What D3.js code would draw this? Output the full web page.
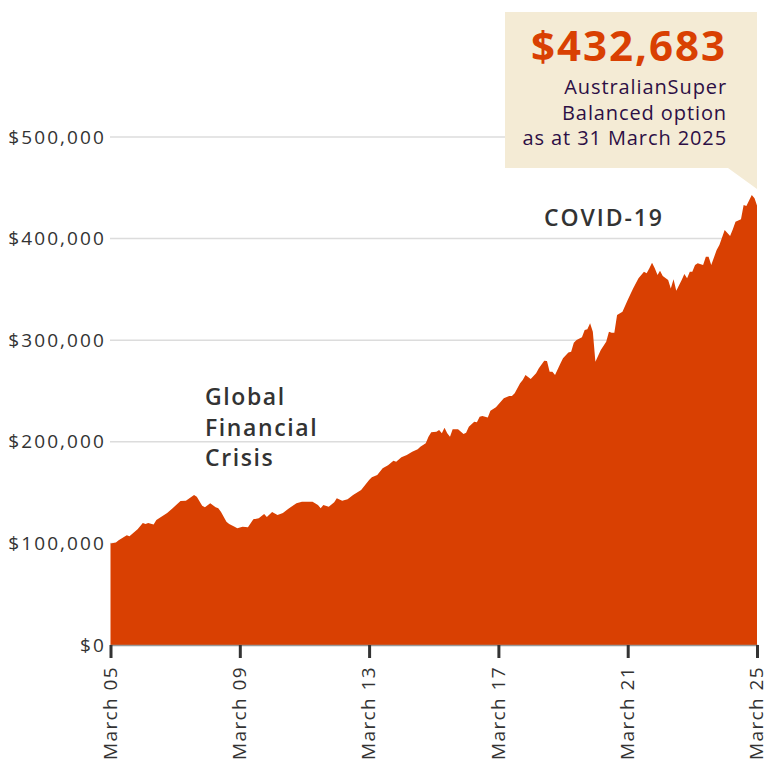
<!DOCTYPE html>
<html>
<head>
<meta charset="utf-8">
<script src="https://cdn.jsdelivr.net/npm/d3@7"></script>
<style>
  html, body { margin: 0; padding: 0; background: #fff; }
  svg { display: block; }
  text { font-family: "Open Sans", "DejaVu Sans", sans-serif; }
</style>
</head>
<body>
<svg id="chart" width="768" height="781"></svg>
<script>
// ---- data (values in $ thousands) ----
const dates = ["2005-03","2005-05","2005-06","2005-09","2005-10","2006-01","2006-03","2006-04","2006-05","2006-07","2006-08","2006-12","2007-02","2007-05","2007-07","2007-10","2007-11","2008-01","2008-02","2008-04","2008-06","2008-07","2008-08","2008-10","2008-11","2009-01","2009-02","2009-04","2009-06","2009-08","2009-10","2009-12","2010-01","2010-03","2010-05","2010-07","2010-09","2010-12","2011-02","2011-06","2011-08","2011-09","2011-10","2011-12","2012-02","2012-03","2012-05","2012-07","2012-09","2012-12","2013-03","2013-04","2013-06","2013-08","2013-10","2013-12","2014-01","2014-03","2014-05","2014-07","2014-09","2014-10","2014-12","2015-01","2015-02","2015-04","2015-05","2015-06","2015-07","2015-08","2015-09","2015-10","2015-12","2016-02","2016-03","2016-04","2016-06","2016-07","2016-08","2016-09","2016-11","2016-12","2017-02","2017-05","2017-07","2017-08","2017-09","2017-11","2017-12","2018-01","2018-03","2018-05","2018-06","2018-08","2018-09","2018-10","2018-11","2018-12","2019-02","2019-03","2019-05","2019-06","2019-07","2019-08","2019-10","2019-11","2019-12","2020-01","2020-02","2020-03","2020-05","2020-07","2020-08","2020-09","2020-10","2020-11","2021-01","2021-03","2021-05","2021-07","2021-09","2021-10","2021-11","2021-12","2022-01","2022-02","2022-03","2022-04","2022-06","2022-07","2022-08","2022-09","2022-11","2022-12","2023-01","2023-02","2023-03","2023-04","2023-05","2023-07","2023-08","2023-09","2023-10","2023-12","2024-01","2024-03","2024-05","2024-06","2024-07","2024-09","2024-10","2024-11","2025-01","2025-02","2025-03"];
const balances = [100,101,103,108,107,114,120,119,120,118.5,123,130,134.5,141.7,142,147.6,146,137,135.5,139.5,135.5,134.5,131,121.4,119,116.5,114.8,116.5,116,123.7,124.7,129,126,131,128,130,134,139.5,141,141,137.8,134.5,137.8,136,140.4,144.4,142,143.4,147.6,152.6,162.4,165,167.3,174,177,181.4,180.4,184.7,187,190.3,192.6,195.2,198.5,205,209.4,210,211.6,208.4,213.9,208.4,205,212.4,212.4,207.7,209,214.9,219.8,219.2,224.7,225.4,224,230.6,234,242.8,245,245,247.7,257.6,260.8,265.7,261.8,267.4,272.3,279.8,279.5,269,269,265.7,277.3,282.2,287.8,288.7,297.6,300.2,302.9,310,310.7,316.6,308.4,278.8,290.4,298.5,308.4,307.4,307.4,324.8,328,339.6,351,360.9,367.4,365.8,370.8,376.3,370.8,364.2,368.4,363.2,359.3,351,359.9,348.7,359.3,365.2,360.9,367.4,367.4,374,375.7,374,382.2,382.2,374,388.8,393.7,408.5,402.6,409.2,416.6,419,433,432,442.9,439.6,432.683];
const yTicks = [0, 100, 200, 300, 400, 500];
const xTickYears = [2005, 2009, 2013, 2017, 2021, 2025];
const gfcLabel = ["Global", "Financial", "Crisis"];
const covidLabel = "COVID-19";
const calloutValue = "$432,683";
const calloutLines = ["AustralianSuper", "Balanced option", "as at 31 March 2025"];

// ---- build ----
const parse = d3.timeParse("%Y-%m");
const data = dates.map((d, i) => ({ date: parse(d), value: balances[i] }));

const svg = d3.select("#chart");
const x = d3.scaleTime()
  .domain([parse("2005-03"), parse("2025-03")])
  .range([110.5, 757]);
const y = d3.scaleLinear().domain([0, 500]).range([645, 137]);

// gridlines
svg.append("g").selectAll("line").data(yTicks.filter(d => d > 0)).join("line")
  .attr("x1", 110).attr("x2", 757)
  .attr("y1", d => y(d)).attr("y2", d => y(d))
  .attr("stroke", "#dcdcdc").attr("stroke-width", 1.5);

// y labels
const fmt = d => "$" + d3.format(",")(d * 1000);
svg.append("g").selectAll("text").data(yTicks).join("text")
  .attr("x", 106).attr("y", d => y(d)).attr("dy", "0.35em")
  .attr("text-anchor", "end")
  .attr("font-size", 19).attr("fill", "#333").attr("letter-spacing", 2.1)
  .text(fmt);

// area
const area = d3.area()
  .x(d => x(d.date)).y0(y(0)).y1(d => y(d.value));
svg.append("path").datum(data)
  .attr("d", area).attr("fill", "#d94002");

// x axis
const xAxis = d3.axisBottom(x)
  .tickValues(xTickYears.map(yr => new Date(yr, 2, 1)))
  .tickSize(13).tickPadding(8)
  .tickFormat(d => "March " + d3.timeFormat("%y")(d));
const gx = svg.append("g").attr("transform", `translate(0,${y(0)})`).call(xAxis);
gx.select(".domain").attr("stroke", "#999").attr("stroke-width", 1.5);
gx.selectAll(".tick line").attr("stroke", "#333").attr("stroke-width", 3);
gx.selectAll(".tick text")
  .attr("font-family", "'Open Sans', sans-serif")
  .attr("font-size", 19).attr("fill", "#333").attr("letter-spacing", 1.4)
  .attr("transform", "rotate(-90)")
  .attr("text-anchor", "end")
  .attr("x", -21).attr("y", -1).attr("dy", "0.35em");

// annotations
svg.append("g").selectAll("text").data(gfcLabel).join("text")
  .attr("x", 205).attr("y", (d, i) => 405 + i * 30.5)
  .attr("font-size", 23).attr("font-weight", 600).attr("fill", "#333")
  .attr("letter-spacing", 1.6)
  .text(d => d);
svg.append("text").attr("x", 544).attr("y", 226)
  .attr("font-size", 23).attr("font-weight", 600).attr("fill", "#333")
  .attr("letter-spacing", 1.9)
  .text(covidLabel);

// callout
svg.append("path")
  .attr("d", "M505,12 L757,12 L757,189 L728,168 L505,168 Z")
  .attr("fill", "#f4ebd5");
svg.append("text").attr("x", 727).attr("y", 61)
  .attr("text-anchor", "end")
  .attr("font-size", 42).attr("font-weight", 700).attr("fill", "#d94002")
  .attr("letter-spacing", 2)
  .text(calloutValue);
svg.append("g").selectAll("text").data(calloutLines).join("text")
  .attr("x", 727).attr("y", (d, i) => 94 + i * 25.5)
  .attr("text-anchor", "end")
  .attr("font-size", 20).attr("fill", "#2d0f45").attr("letter-spacing", 0.9)
  .text(d => d);
</script>
</body>
</html>
